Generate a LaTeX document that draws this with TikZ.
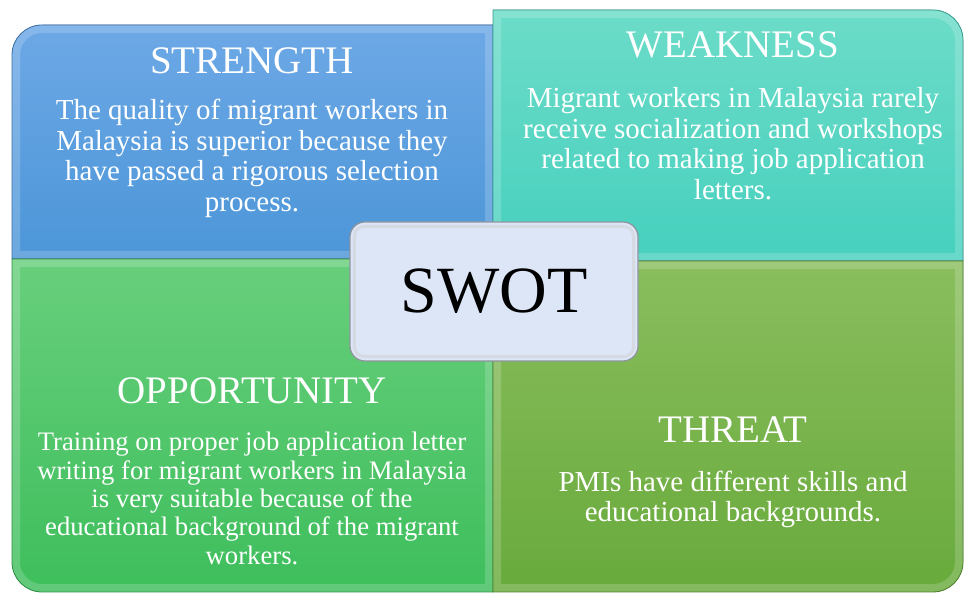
\documentclass[tikz,border=0pt]{standalone}
\usepackage{fontspec}
\setmainfont{Liberation Serif}
\usetikzlibrary{positioning}
\definecolor{strengthTop}{HTML}{6DA8E6}
\definecolor{strengthBot}{HTML}{4C96D8}
\definecolor{weaknessTop}{HTML}{6CDCC8}
\definecolor{weaknessBot}{HTML}{46D0BE}
\definecolor{opportunityTop}{HTML}{68CF7C}
\definecolor{opportunityBot}{HTML}{3EBE5C}
\definecolor{threatTop}{HTML}{8ABE5E}
\definecolor{threatBot}{HTML}{68AA3C}
\definecolor{swotFill}{HTML}{DCE6F7}
\definecolor{swotEdge}{HTML}{8E939C}
\tikzstyle{head} = [text=white, inner sep=0pt, font=\fontsize{39}{42}\selectfont]
\tikzstyle{body} = [text=white, align=center, inner sep=0pt,
    font=\fontsize{29}{30.5}\selectfont]
\tikzstyle{rim} = [line width=16pt, white, opacity=0.18]
\tikzstyle{swotbox} = [draw=swotEdge, fill=swotFill, line width=1.2pt,
    rounded corners=15pt, minimum width=288pt, minimum height=139pt,
    inner sep=0pt, font=\fontsize{66}{70}\selectfont]

\begin{document}
\begin{tikzpicture}[x=1pt, y=1pt]
  \useasboundingbox (0,0) rectangle (965,593);
  % Quadrant outlines
  \def\strengthshape{(493,334) -- (12,334) -- (12,538)
    arc[start angle=180, end angle=90, radius=30] -- (493,568) -- cycle}
  \def\weaknessshape{(493,332) -- (493,583) -- (933,583)
    arc[start angle=90, end angle=0, radius=30] -- (963,332) -- cycle}
  \def\opportunityshape{(493,334) -- (12,334) -- (12,31)
    arc[start angle=180, end angle=270, radius=30] -- (493,1) -- cycle}
  \def\threatshape{(493,332) -- (963,332) -- (963,31)
    arc[start angle=0, end angle=-90, radius=30] -- (493,1) -- cycle}
  \foreach \shape/\col in {\strengthshape/strength, \opportunityshape/opportunity,
      \weaknessshape/weakness, \threatshape/threat}{
    \fill[top color=\col Top, bottom color=\col Bot] \shape;
    \begin{scope}
      \clip \shape;
      \draw[rim] \shape;
    \end{scope}
    \draw[\col Bot!75!black, line width=0.8pt] \shape;
  }
  % Place nodes
  \node [head] (strengthHead) at (252,532) {STRENGTH};
  \node [body, below of=strengthHead, node distance=97.5pt] (strengthText)
  {The quality of migrant workers in\\ Malaysia is superior because they\\
   have passed a rigorous selection\\ process.};
  \node [head] (weaknessHead) at (733,548) {WEAKNESS};
  \node [body, below of=weaknessHead, node distance=98.5pt] (weaknessText)
  {Migrant workers in Malaysia rarely\\ receive socialization and workshops\\
   related to making job application\\ letters.};
  \node [head] (opportunityHead) at (252,202) {OPPORTUNITY};
  \node [body, font=\fontsize{26.7}{28.3}\selectfont,
    below of=opportunityHead, node distance=107.5pt] (opportunityText)
  {Training on proper job application letter\\ writing for migrant workers in Malaysia\\
   is very suitable because of the\\ educational background of the migrant\\ workers.};
  \node [head] (threatHead) at (733,163) {THREAT};
  \node [body, font=\fontsize{29}{30}\selectfont,
    below of=threatHead, node distance=69pt] (threatText)
  {PMIs have different skills and\\ educational backgrounds.};
  \node [swotbox] (swot) at (494,301.5) {SWOT};
  \draw [swotEdge!40, line width=3pt, opacity=0.6, rounded corners=10pt]
    ([shift={(5pt,5pt)}]swot.south west) rectangle ([shift={(-5pt,-5pt)}]swot.north east);
\end{tikzpicture}
\end{document}
